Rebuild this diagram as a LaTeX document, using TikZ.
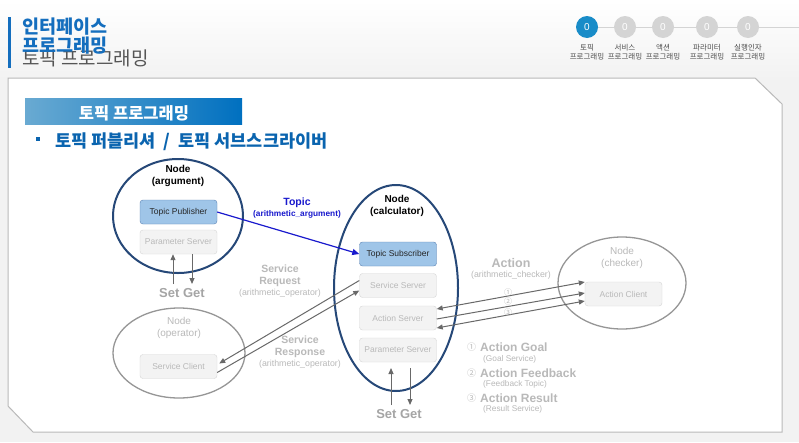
\documentclass[tikz,border=0pt]{standalone}
\usepackage{fontspec}
\setmainfont{Liberation Sans}
\newfontfamily\kr{Noto Sans CJK KR}
\usetikzlibrary{arrows.meta,shapes.geometric}
\definecolor{navy}{RGB}{38,72,120}
\definecolor{pubfill}{RGB}{159,197,232}
\definecolor{pubdraw}{RGB}{90,130,180}
\definecolor{gfill}{RGB}{243,243,243}
\definecolor{gdraw}{RGB}{214,214,214}
\definecolor{gtext}{RGB}{185,185,185}
\definecolor{gell}{RGB}{150,150,150}
\definecolor{garrow}{RGB}{105,105,105}
\definecolor{glabel}{RGB}{185,185,185}
\definecolor{setget}{RGB}{165,165,165}
\definecolor{topicblue}{RGB}{25,25,205}
\definecolor{titleblue}{RGB}{20,110,190}
\definecolor{bulletblue}{RGB}{10,100,175}
\definecolor{activec}{RGB}{25,140,200}
\definecolor{inactc}{RGB}{212,212,212}
\definecolor{secL}{RGB}{105,170,210}
\definecolor{secR}{RGB}{0,112,192}
\definecolor{bggrey}{RGB}{242,242,242}
\definecolor{panelline}{RGB}{185,185,185}
\definecolor{headgrey}{RGB}{85,85,85}
\tikzset{
  navyell/.style={ellipse, draw=navy, line width=2pt, inner sep=0pt},
  greyell/.style={ellipse, draw=gell, line width=1.3pt, inner sep=0pt},
  pubbox/.style={draw=pubdraw, fill=pubfill, rounded corners=3pt, minimum width=77pt, minimum height=24pt, inner sep=0pt, font=\fontsize{8.5}{8.5}\selectfont, text=black!85},
  gbox/.style={draw=gdraw, fill=gfill, rounded corners=3pt, minimum width=77pt, minimum height=24pt, inner sep=0pt, font=\fontsize{8.5}{8.5}\selectfont, text=gtext},
  nodetitle/.style={align=center, font=\bfseries\fontsize{10}{12}\selectfont},
  gnodetitle/.style={align=center, text=gtext, font=\fontsize{10}{12}\selectfont},
  garr/.style={draw=garrow, line width=1pt, -{Triangle[length=6pt,width=5pt]}},
  garrboth/.style={draw=garrow, line width=1pt, {Triangle[length=6pt,width=5pt]}-{Triangle[length=6pt,width=5pt]}},
  setgetlbl/.style={text=setget, font=\bfseries\fontsize{13}{13}\selectfont},
  step0/.style={circle, minimum size=22pt, inner sep=0pt, text=white, font=\fontsize{10}{10}\selectfont},
  steplbl/.style={align=center, text=black!70, font=\kr\fontsize{7.5}{9.5}\selectfont},
  sublbl/.style={text=glabel, font=\fontsize{8.8}{8.8}\selectfont},
}
\begin{document}
\begin{tikzpicture}[x=1pt,y=-1pt]
\useasboundingbox (0,0) rectangle (799,442);
% background
\fill[bggrey] (0,0) rectangle (799,442);
\shade[top color=white, bottom color=bggrey] (0,0) rectangle (799,80);
% panel
\draw[panelline, line width=1pt, fill=white] (8,78) -- (755,78) -- (782,104) -- (782,432) -- (33,432) -- (8,406) -- cycle;
% header
\fill[titleblue] (8,17) rectangle (11,68);
\node[anchor=west, text=headgrey, inner sep=0pt, font=\kr\fontsize{19}{19}\selectfont] (hsub) at (22,58) {토픽 프로그래밍};
\node[anchor=north west, align=left, text=titleblue, inner sep=0pt, font=\kr\bfseries\fontsize{18.5}{18.5}\selectfont] (htitle) at (22,18) {인터페이스\\프로그래밍};
% progress
\draw[inactc, line width=1pt] (587,27) -- (799,27);
\node[step0, fill=activec] (s1) at (587,27) {0};
\node[step0, fill=inactc] (s2) at (625,27) {0};
\node[step0, fill=inactc] (s3) at (663,27) {0};
\node[step0, fill=inactc] (s4) at (707,27) {0};
\node[step0, fill=inactc] (s5) at (748,27) {0};
\node[steplbl] (l1) at (587,52) {토픽\\프로그래밍};
\node[steplbl] (l2) at (625,52) {서비스\\프로그래밍};
\node[steplbl] (l3) at (663,52) {액션\\프로그래밍};
\node[steplbl] (l4) at (707,52) {파라미터\\프로그래밍};
\node[steplbl] (l5) at (748,52) {실행인자\\프로그래밍};
% section bar
\shade[left color=secL, right color=secR] (25,98) rectangle (242,124);
\node[text=white, font=\kr\bfseries\fontsize{16.5}{16.5}\selectfont] (sect) at (134,113) {토픽 프로그래밍};
% bullet
\fill[bulletblue] (35.5,136.5) rectangle (40,141);
\node[anchor=west, inner sep=0pt, text=bulletblue, font=\kr\bfseries\fontsize{17.5}{17.5}\selectfont] (bul) at (55,142) {토픽 퍼블리셔 \ / \ 토픽 서브스크라이버};

% ===== diagram =====
% argument node
\node[navyell, minimum width=130pt, minimum height=114pt] (argN) at (178,216) {};
\node[nodetitle] (argT) at (178,176) {Node\\(argument)};
\node[pubbox] (pub) at (178.5,212) {Topic Publisher};
\node[gbox] (argPS) at (178.5,242) {Parameter Server};
\coordinate (argSet) at (173,284);
\coordinate (argGet) at (192,254);
\draw[garr] (argSet) -- (argSet |- argPS.south);
\draw[garr] (argGet) -- (argGet |- argSet);
\node[setgetlbl] (argSG) at (182,293) {Set Get};

% calculator node
\node[navyell, minimum width=124pt, minimum height=206pt] (calcN) at (396,288) {};
\node[nodetitle] (calcT) at (397,206) {Node\\(calculator)};
\node[pubbox] (sub) at (398,254) {Topic Subscriber};
\node[gbox] (ss) at (398,285.5) {Service Server};
\node[gbox] (as) at (398,318) {Action Server};
\node[gbox] (calcPS) at (398,350) {Parameter Server};
\coordinate (calcSet) at (391,405);
\coordinate (calcGet) at (410,368);
\draw[garr] (calcSet) -- (calcSet |- calcGet);
\draw[garr] (calcGet) -- (calcGet |- calcSet);
\node[setgetlbl] (calcSG) at (399,414) {Set Get};

% topic
\draw[draw=topicblue, line width=1.2pt, -{Triangle[length=7pt,width=6pt]}] (pub.east) -- (sub.west);
\node[text=topicblue, font=\bfseries\fontsize{10.5}{11}\selectfont] (topicT) at (297,203) {Topic};
\node[text=topicblue, font=\bfseries\fontsize{8.3}{8.3}\selectfont] (topicS) at (297,214) {(arithmetic\_argument)};

% operator node
\node[greyell, minimum width=132pt, minimum height=90pt] (opN) at (179,353) {};
\node[gnodetitle] (opT) at (179,328) {Node\\(operator)};
\node[gbox] (sc) at (178.5,366.5) {Service Client};
\draw[garr] ([yshift=-6]sc.east) -- ([yshift=-5]ss.west);
\draw[garr] ([yshift=5]ss.west) -- ([xshift=2,yshift=3]sc.east);
\node[align=center, text=glabel, font=\bfseries\fontsize{10.5}{12}\selectfont] (reqT) at (280,276) {Service\\Request};
\node[sublbl] (reqS) at (280,293) {(arithmetic\_operator)};
\node[align=center, text=glabel, font=\bfseries\fontsize{10.5}{12}\selectfont] (resT) at (300,347) {Service\\Response};
\node[sublbl] (resS) at (300,364) {(arithmetic\_operator)};

% checker node
\node[greyell, minimum width=128pt, minimum height=92pt] (chN) at (622,283) {};
\node[gnodetitle] (chT) at (622,258) {Node\\(checker)};
\node[gbox] (ac) at (623.5,294) {Action Client};
\draw[garrboth] ([yshift=-10]as.east) -- ([yshift=-7]ac.west);
\draw[garr] ([yshift=-1]as.east) -- ([yshift=1]ac.west);
\draw[garrboth] ([yshift=9]as.east) -- ([yshift=12]ac.west);
\node[text=gtext, font=\kr\fontsize{8}{8}\selectfont] (n1) at (508,292) {①};
\node[text=gtext, font=\kr\fontsize{8}{8}\selectfont] (n2) at (508,301) {②};
\node[text=gtext, font=\kr\fontsize{8}{8}\selectfont] (n3) at (508,312) {③};
\node[text=glabel, font=\bfseries\fontsize{12.5}{12.5}\selectfont] (actT) at (511,263) {Action};
\node[sublbl] (actS) at (511,275) {(arithmetic\_checker)};

% legend
\node[anchor=west, inner sep=0pt, text=gtext, font=\kr\fontsize{9}{9}\selectfont] (g1) at (467,347) {①};
\node[anchor=west, inner sep=0pt, text=glabel, font=\bfseries\fontsize{12}{12}\selectfont] (g1t) at (480,347) {Action Goal};
\node[anchor=west, inner sep=0pt, text=glabel, font=\fontsize{8.3}{8.3}\selectfont] (g1s) at (483,359) {(Goal Service)};
\node[anchor=west, inner sep=0pt, text=gtext, font=\kr\fontsize{9}{9}\selectfont] (g2) at (467,373) {②};
\node[anchor=west, inner sep=0pt, text=glabel, font=\bfseries\fontsize{12}{12}\selectfont] (g2t) at (480,373) {Action Feedback};
\node[anchor=west, inner sep=0pt, text=glabel, font=\fontsize{8.3}{8.3}\selectfont] (g2s) at (483,384) {(Feedback Topic)};
\node[anchor=west, inner sep=0pt, text=gtext, font=\kr\fontsize{9}{9}\selectfont] (g3) at (467,398) {③};
\node[anchor=west, inner sep=0pt, text=glabel, font=\bfseries\fontsize{12}{12}\selectfont] (g3t) at (480,398) {Action Result};
\node[anchor=west, inner sep=0pt, text=glabel, font=\fontsize{8.3}{8.3}\selectfont] (g3s) at (483,409) {(Result Service)};
\end{tikzpicture}
\end{document}
